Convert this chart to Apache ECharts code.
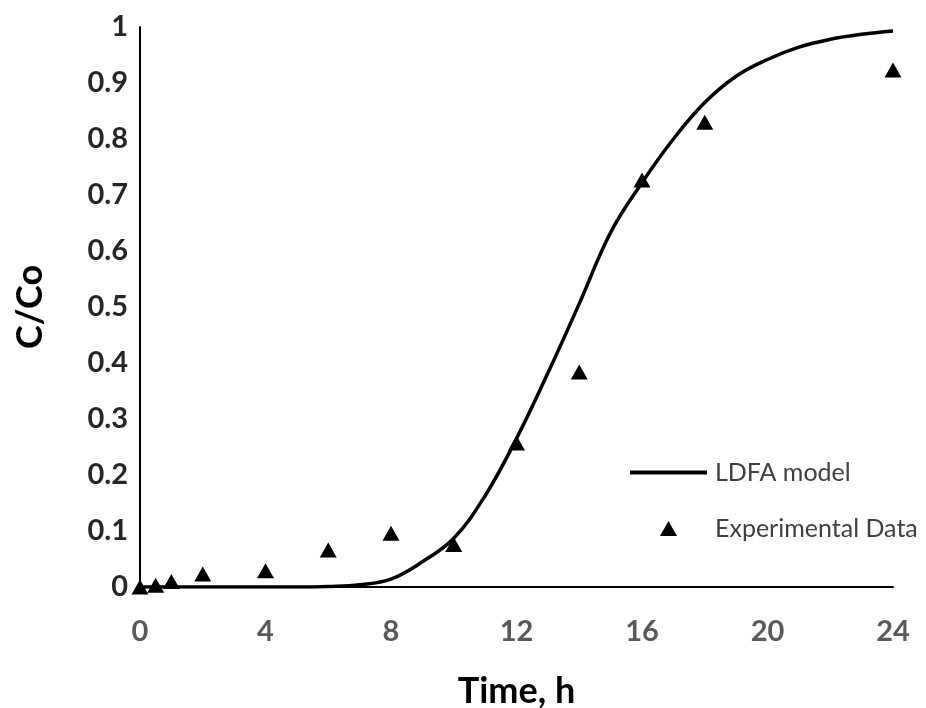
<!DOCTYPE html>
<html>
<head>
<meta charset="utf-8">
<title>C/Co vs Time</title>
<script src="https://cdn.jsdelivr.net/npm/echarts@6/dist/echarts.min.js"></script>
<style>
  html, body { margin: 0; padding: 0; background: #ffffff; }
  #chart { width: 926px; height: 708px; }
</style>
</head>
<body>
<div id="chart"></div>
<script>
// Breakthrough curve: LDFA model vs experimental C/Co
const modelTime = [0, 1, 2, 3, 4, 5, 6, 7, 8, 9, 10, 11, 12, 13, 14, 15, 16, 17, 18, 19, 20, 21, 22, 23, 24];
const modelValues = [0, 0, 0, 0, 0, 0, 0.001, 0.004, 0.014, 0.045, 0.087, 0.163, 0.265, 0.382, 0.506, 0.633, 0.722, 0.800, 0.865, 0.912, 0.942, 0.964, 0.978, 0.987, 0.993];

const expTime = [0, 0.5, 1, 2, 4, 6, 8, 10, 12, 14, 16, 18, 24];
const expValues = [0, 0.003, 0.01, 0.023, 0.029, 0.066, 0.096, 0.076, 0.257, 0.384, 0.727, 0.830, 0.923];

const xTicks = { min: 0, max: 24, step: 4 };
const yTicks = { min: 0, max: 1, step: 0.1 };

const seriesNames = ['LDFA model', 'Experimental Data'];

const fontFamily = 'Lato, "Open Sans", sans-serif';
const legendText = { fontFamily: fontFamily, fontSize: 25, color: '#404040' };

const chart = echarts.init(document.getElementById('chart'), null, { renderer: 'canvas' });

chart.setOption({
  backgroundColor: '#ffffff',
  animation: false,
  grid: { left: 140, right: 33, top: 27, bottom: 121, containLabel: false, outerBoundsMode: 'none' },
  legend: [
    {
      left: 630,
      top: 460,
      padding: 0,
      icon: 'rect',
      itemWidth: 77,
      itemHeight: 4,
      data: [seriesNames[0]],
      itemStyle: { color: '#000000' },
      textStyle: Object.assign({ padding: [0, 0, 0, 3] }, legendText)
    },
    {
      left: 660,
      top: 516,
      padding: 0,
      icon: 'triangle',
      itemWidth: 17,
      itemHeight: 15,
      data: [seriesNames[1]],
      itemStyle: { color: '#000000', opacity: 1 },
      textStyle: Object.assign({ padding: [0, 0, 0, 33] }, legendText)
    }
  ],
  xAxis: {
    type: 'value',
    min: xTicks.min,
    max: xTicks.max,
    interval: xTicks.step,
    name: 'Time, h',
    nameLocation: 'middle',
    nameGap: 86,
    nameTextStyle: { fontFamily: fontFamily, fontSize: 36, fontWeight: 'bold', color: '#000000' },
    axisLine: { show: true, onZero: false, lineStyle: { color: '#000000', width: 2 } },
    axisTick: { show: false },
    splitLine: { show: false },
    axisLabel: { margin: 30, fontFamily: fontFamily, fontSize: 29, fontWeight: 'bold', color: '#595959' }
  },
  yAxis: {
    type: 'value',
    min: yTicks.min,
    max: yTicks.max,
    interval: yTicks.step,
    name: 'C/Co',
    nameLocation: 'middle',
    nameGap: 92,
    nameTextStyle: { fontFamily: fontFamily, fontSize: 36, fontWeight: 'bold', color: '#000000' },
    axisLine: { show: true, onZero: false, lineStyle: { color: '#000000', width: 2 } },
    axisTick: { show: false },
    splitLine: { show: false },
    axisLabel: { margin: 12, fontFamily: fontFamily, fontSize: 29, fontWeight: 'bold', color: '#262626' }
  },
  series: [
    {
      name: seriesNames[0],
      type: 'line',
      data: modelTime.map((t, i) => [t, modelValues[i]]),
      smooth: 0.4,
      showSymbol: false,
      symbol: 'none',
      lineStyle: { color: '#000000', width: 3.5 },
      itemStyle: { color: '#000000' },
      z: 2
    },
    {
      name: seriesNames[1],
      type: 'scatter',
      data: expTime.map((t, i) => [t, expValues[i]]),
      symbol: 'triangle',
      symbolSize: [17, 15],
      itemStyle: { color: '#000000', opacity: 1 },
      clip: false,
      z: 3
    }
  ]
});
</script>
</body>
</html>
